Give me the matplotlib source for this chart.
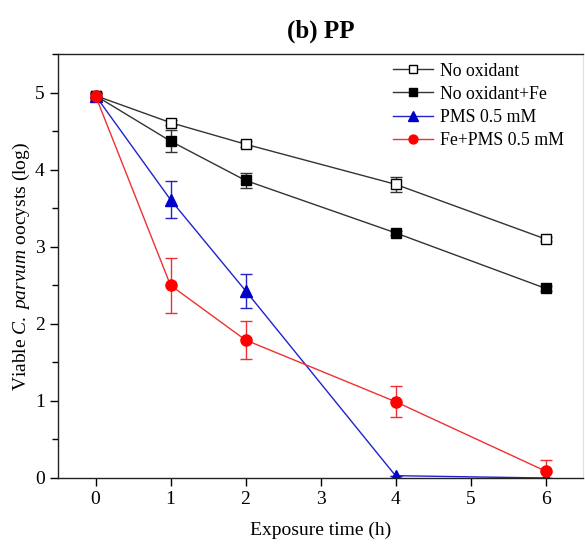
import numpy as np
import matplotlib
matplotlib.use('Agg')
import matplotlib.pyplot as plt
from matplotlib.ticker import MultipleLocator

plt.rcParams['font.family'] = ['Liberation Serif', 'DejaVu Serif']
plt.rcParams['mathtext.fontset'] = 'custom'
plt.rcParams['mathtext.rm'] = 'Liberation Serif'
plt.rcParams['mathtext.it'] = 'Liberation Serif:italic'

# ============================================================================
# DATA
# ============================================================================
time_h = [0, 1, 2, 4, 6]

no_ox = [4.96, 4.61, 4.33, 3.81, 3.10]
no_ox_err = [0.03, 0.03, 0.04, 0.10, 0.03]

no_ox_fe = [4.96, 4.37, 3.86, 3.18, 2.46]
no_ox_fe_err = [0.03, 0.14, 0.10, 0.03, 0.03]

pms = [4.96, 3.61, 2.43, 0.03, 0.0]
pms_err = [0.03, 0.24, 0.22, 0.0, 0.0]

fe_pms = [4.96, 2.50, 1.79, 0.99, 0.09]
fe_pms_err = [0.03, 0.36, 0.25, 0.20, 0.14]

series = [
    (no_ox, no_ox_err, 'No oxidant', '#333333', 's', 'white', 7.0),
    (no_ox_fe, no_ox_fe_err, 'No oxidant+Fe', '#333333', 's', 'black', 7.0),
    (pms, pms_err, 'PMS 0.5 mM', '#2222cc', '^', '#0000cc', 8.5),
    (fe_pms, fe_pms_err, 'Fe+PMS 0.5 mM', '#f03030', 'o', '#ff0000', 8.0),
]

# ============================================================================
# PLOT
# ============================================================================
fig = plt.figure(figsize=(5.85, 5.45), dpi=100)
ax = fig.add_axes([58 / 585, 1 - 478 / 545, (583 - 58) / 585, (478 - 54) / 545])

for vals, errs, label, col, mk, mfc, ms in series:
    mec = 'black' if mk == 's' else mfc
    ax.errorbar(time_h, vals, yerr=errs, color=col, marker=mk, markersize=ms,
                markerfacecolor=mfc, markeredgecolor=mec, markeredgewidth=1.0,
                linewidth=1.0, elinewidth=1.0, capsize=4, capthick=1.0,
                label=label)

ax.set_xlim(-0.5, 6.5)
ax.set_ylim(0, 5.5)
ax.set_xticks(range(0, 7))
ax.yaxis.set_major_locator(MultipleLocator(1))
ax.yaxis.set_minor_locator(MultipleLocator(0.5))
ax.tick_params(axis='both', which='major', direction='out', length=6,
               width=1, labelsize=14)
ax.tick_params(axis='y', which='minor', direction='out', length=4, width=1)
for s in ['left', 'bottom', 'top']:
    ax.spines[s].set_linewidth(1.0)
    ax.spines[s].set_color('#222222')
ax.spines['right'].set_color('#e0e0e0')

ax.set_xlabel('Exposure time (h)', fontsize=14, labelpad=10)
ax.set_ylabel(r'Viable $\mathit{C.\ parvum}$ oocysts (log)', fontsize=14,
              labelpad=2)
ax.set_title('(b) PP', fontsize=18, fontweight='bold', pad=12)

handles, labels = ax.get_legend_handles_labels()
handles = [h[0] for h in handles]
ax.legend(handles, labels, loc='upper right', bbox_to_anchor=(0.964, 0.885),
          bbox_transform=fig.transFigure, frameon=False, fontsize=12.8,
          handlelength=2.25, handletextpad=0.4, labelspacing=0.34,
          markerscale=0.8, borderpad=0, borderaxespad=0)

fig.savefig('out.png', dpi=100)
